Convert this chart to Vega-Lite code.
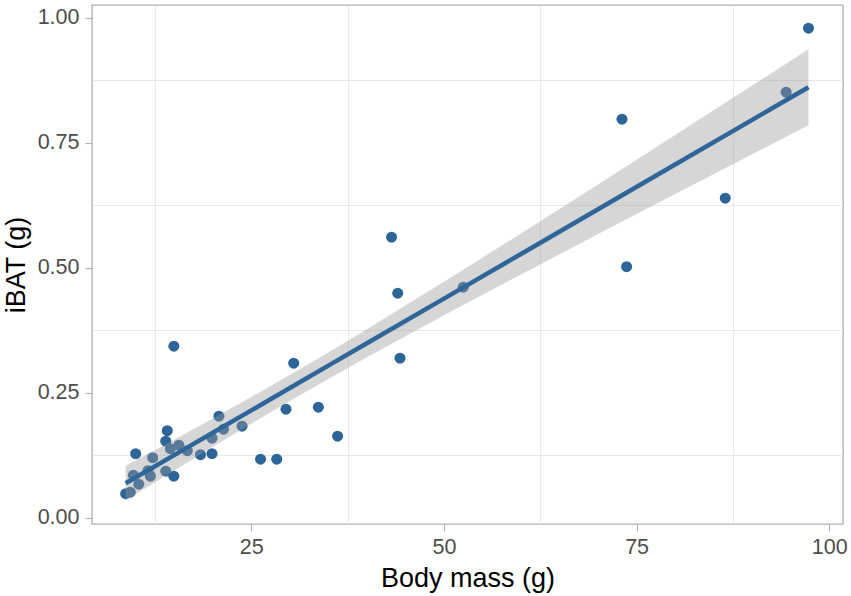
{
  "$schema": "https://vega.github.io/schema/vega-lite/v6.json",
  "width": 751,
  "height": 519,
  "autosize": {"type": "none"},
  "padding": {"left": 92, "top": 5, "right": 8, "bottom": 72},
  "background": "white",
  "config": {
    "view": {"stroke": "#b3b3b3", "strokeWidth": 1.4},
    "axis": {
      "domain": false,
      "grid": true,
      "gridColor": "#dedede",
      "gridWidth": 1.2,
      "tickColor": "#b3b3b3",
      "tickWidth": 1.2,
      "tickSize": 7,
      "labelFont": "Liberation Sans",
      "labelFontSize": 21.5,
      "labelColor": "#4d4d4d",
      "titleFont": "Liberation Sans",
      "titleFontSize": 27,
      "titleFontWeight": "normal",
      "titleColor": "#000000"
    }
  },
  "datasets": {
    "pts": [
      {"mass": 8.7, "ibat": 0.048},
      {"mass": 9.3, "ibat": 0.051},
      {"mass": 9.7, "ibat": 0.085},
      {"mass": 10.0, "ibat": 0.128},
      {"mass": 10.4, "ibat": 0.067},
      {"mass": 11.6, "ibat": 0.094},
      {"mass": 11.9, "ibat": 0.083},
      {"mass": 12.2, "ibat": 0.120},
      {"mass": 13.9, "ibat": 0.093},
      {"mass": 13.9, "ibat": 0.153},
      {"mass": 14.1, "ibat": 0.174},
      {"mass": 14.5, "ibat": 0.138},
      {"mass": 14.95, "ibat": 0.083},
      {"mass": 14.95, "ibat": 0.343},
      {"mass": 15.6, "ibat": 0.145},
      {"mass": 16.7, "ibat": 0.134},
      {"mass": 18.4, "ibat": 0.126},
      {"mass": 19.9, "ibat": 0.128},
      {"mass": 19.9, "ibat": 0.159},
      {"mass": 20.8, "ibat": 0.203},
      {"mass": 21.4, "ibat": 0.177},
      {"mass": 23.8, "ibat": 0.183},
      {"mass": 26.2, "ibat": 0.117},
      {"mass": 28.3, "ibat": 0.117},
      {"mass": 29.5, "ibat": 0.217},
      {"mass": 30.5, "ibat": 0.309},
      {"mass": 33.7, "ibat": 0.221},
      {"mass": 36.2, "ibat": 0.163},
      {"mass": 43.2, "ibat": 0.561},
      {"mass": 44.0, "ibat": 0.449},
      {"mass": 44.3, "ibat": 0.319},
      {"mass": 52.5, "ibat": 0.461},
      {"mass": 73.1, "ibat": 0.797},
      {"mass": 73.7, "ibat": 0.502},
      {"mass": 86.5, "ibat": 0.639},
      {"mass": 94.4, "ibat": 0.851},
      {"mass": 97.3, "ibat": 0.979}
    ],
    "fit": [
      {"mass": 8.7, "fit": 0.0690, "lo": 0.0343, "hi": 0.1037},
      {"mass": 12, "fit": 0.0985, "lo": 0.0661, "hi": 0.1309},
      {"mass": 16, "fit": 0.1342, "lo": 0.1041, "hi": 0.1643},
      {"mass": 20, "fit": 0.1700, "lo": 0.1418, "hi": 0.1982},
      {"mass": 25, "fit": 0.2147, "lo": 0.1881, "hi": 0.2413},
      {"mass": 30, "fit": 0.2594, "lo": 0.2334, "hi": 0.2854},
      {"mass": 35, "fit": 0.3041, "lo": 0.2776, "hi": 0.3306},
      {"mass": 40, "fit": 0.3488, "lo": 0.3208, "hi": 0.3768},
      {"mass": 50, "fit": 0.4382, "lo": 0.4047, "hi": 0.4717},
      {"mass": 60, "fit": 0.5275, "lo": 0.4865, "hi": 0.5685},
      {"mass": 70, "fit": 0.6169, "lo": 0.5672, "hi": 0.6666},
      {"mass": 80, "fit": 0.7063, "lo": 0.6473, "hi": 0.7653},
      {"mass": 90, "fit": 0.7957, "lo": 0.7269, "hi": 0.8645},
      {"mass": 97.3, "fit": 0.8610, "lo": 0.7850, "hi": 0.9370}
    ]
  },
  "resolve": {"axis": {"x": "independent", "y": "independent"}},
  "layer": [
    {
      "data": {"name": "fit"},
      "mark": {"type": "point", "opacity": 0},
      "encoding": {
        "x": {"field": "mass", "type": "quantitative",
              "scale": {"domain": [4.33, 101.78], "nice": false, "zero": false},
              "axis": {"values": [12.5, 37.5, 62.5, 87.5], "labels": false, "ticks": false, "title": null, "gridWidth": 0.8, "gridColor": "#e3e3e3", "orient": "bottom"}},
        "y": {"field": "fit", "type": "quantitative",
              "scale": {"domain": [-0.0126, 1.0254], "nice": false, "zero": false},
              "axis": {"values": [0.125, 0.375, 0.625, 0.875], "labels": false, "ticks": false, "title": null, "gridWidth": 0.8, "gridColor": "#e3e3e3", "orient": "left"}}
      }
    },
    {
      "data": {"name": "pts"},
      "mark": {"type": "circle", "size": 122, "opacity": 1, "color": "#2d6598"},
      "encoding": {
        "x": {"field": "mass", "type": "quantitative",
              "scale": {"domain": [4.33, 101.78], "nice": false, "zero": false},
              "axis": {"values": [25, 50, 75, 100], "title": "Body mass (g)", "labelPadding": 5, "titlePadding": 8, "orient": "bottom"}},
        "y": {"field": "ibat", "type": "quantitative",
              "scale": {"domain": [-0.0126, 1.0254], "nice": false, "zero": false},
              "axis": {"values": [0, 0.25, 0.5, 0.75, 1], "format": ".2f", "title": "iBAT (g)", "labelPadding": 6, "titlePadding": 7, "orient": "left"}}
      }
    },
    {
      "data": {"name": "fit"},
      "mark": {"type": "area", "color": "#999999", "opacity": 0.4},
      "encoding": {
        "x": {"field": "mass", "type": "quantitative", "axis": null},
        "y": {"field": "lo", "type": "quantitative", "axis": null},
        "y2": {"field": "hi"}
      }
    },
    {
      "data": {"name": "fit"},
      "mark": {"type": "line", "color": "#2f669a", "strokeWidth": 4.5},
      "encoding": {
        "x": {"field": "mass", "type": "quantitative", "axis": null},
        "y": {"field": "fit", "type": "quantitative", "axis": null}
      }
    }
  ]
}
